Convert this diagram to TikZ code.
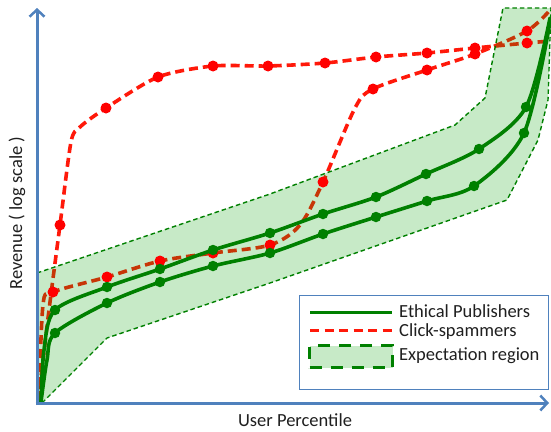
\documentclass[tikz,border=0pt]{standalone}
\usepackage{fontspec}
\setmainfont{Carlito}
\usetikzlibrary{arrows.meta}
\definecolor{axisblue}{RGB}{79,129,189}
\definecolor{eth}{RGB}{0,128,0}
\definecolor{spam}{RGB}{255,25,10}
\definecolor{regfill}{RGB}{0,160,0}
\tikzset{
  axisline/.style={draw=axisblue,line width=3pt,-{Straight Barb[length=7pt,width=15pt,line width=2.5pt]}},
  ethline/.style={draw=eth,line width=3.6pt,line cap=round},
  spamline/.style={draw=spam,line width=3.6pt,dash pattern=on 9pt off 5pt},
  regionstyle/.style={fill=regfill,fill opacity=0.22,draw=eth,line width=1.4pt,dash pattern=on 4.5pt off 3pt,draw opacity=1},
  edot/.style={circle,fill=eth,inner sep=0pt,minimum size=10.5pt},
  sdot/.style={circle,fill=red,inner sep=0pt,minimum size=11pt},
  lbl/.style={font=\fontsize{18.5}{22}\selectfont,text=black!88,inner sep=0pt},
}
\begin{document}
\begin{tikzpicture}[x=1pt,y=-1pt]
\useasboundingbox (0,0) rectangle (551,431);
% red curves (beneath region)
\draw[spamline] plot[smooth,tension=0.45] coordinates {(38,403) (49,310) (60,225) (71,142) (80,127) (106,108) (158,77) (213,66) (268,66) (325,63) (376,57) (427,53) (475,48) (527,43) (551,41)};
\draw[spamline] plot[smooth,tension=0.5] coordinates {(39,400) (43,305) (53,292) (107,277) (160,261) (213,253) (270,245) (300,225) (323,182) (355,108) (373,89) (427,70) (475,54) (527,31) (551,9)};
% expectation region
\path[regionstyle] (37,273) -- (270,194) -- (455,125) -- (485,98) -- (503,8) -- (551,8) -- (548,100) -- (538,140) -- (507,200) -- (270,283) -- (107,338) -- (42,403) -- (37,403) -- cycle;
% red dots
\foreach \p [count=\i] in {(60,225),(106,108),(158,77),(213,66),(268,66),(325,63),(376,57),(427,53),(475,48),(527,43)}
  \node[sdot] (ra\i) at \p {};
\foreach \p [count=\i] in {(53,292),(107,277),(160,261),(213,253),(270,245),(323,182),(373,89),(427,70),(475,54),(527,31)}
  \node[sdot] (rb\i) at \p {};
% green curves
\draw[ethline] plot[smooth,tension=0.5] coordinates {(41,402) (44,350) (55,310) (107,287) (160,269) (213,250) (270,233) (323,214) (376,197) (426,174) (479,149) (526,107) (550,18)};
\draw[ethline] plot[smooth,tension=0.5] coordinates {(41,402) (47,360) (55,333) (107,303) (160,282) (213,266) (270,253) (323,234) (376,217) (427,201) (474,186) (524,133) (550,22)};
\foreach \p [count=\i] in {(55,310),(107,287),(160,269),(213,250),(270,233),(323,214),(376,197),(426,174),(479,149),(526,107)}
  \node[edot] (ga\i) at \p {};
\foreach \p [count=\i] in {(55,333),(107,303),(160,282),(213,266),(270,253),(323,234),(376,217),(427,201),(474,186),(524,133)}
  \node[edot] (gb\i) at \p {};
% axes
\coordinate (o) at (37,403);
\coordinate (ytop) at (37,8);
\coordinate (xend) at (549,403);
\draw[axisline] (37,405) -- (ytop);
\draw[axisline] (35.5,403) -- (xend);
\node[lbl,rotate=90] (ylab) at (17,213) {Revenue ( log scale )};
\node[lbl] (xlab) at (295,420) {User Percentile};
% legend
\node[draw=axisblue,line width=1pt,minimum width=249pt,minimum height=94pt,inner sep=0pt,fill=white] (leg) at (423.5,342) {};
\coordinate (l1a) at (310,312); \coordinate (l1b) at (392,312);
\draw[draw=eth,line width=3pt] (l1a) -- (l1b);
\coordinate (l2a) at (310,330); \coordinate (l2b) at (392,330);
\draw[draw=spam,line width=3pt,dash pattern=on 9pt off 5.5pt] (l2a) -- (l2b);
\node[fill=regfill,fill opacity=0.22,draw=eth,draw opacity=1,line width=3pt,dash pattern=on 12pt off 9pt,minimum width=83pt,minimum height=22pt,inner sep=0pt] (l3) at (351,356.5) {};
\node[lbl,anchor=west] (t1) at (399,311) {Ethical Publishers};
\node[lbl,anchor=west] (t2) at (399,332) {Click-spammers};
\node[lbl,anchor=west] (t3) at (399,356) {Expectation region};
\end{tikzpicture}
\end{document}
